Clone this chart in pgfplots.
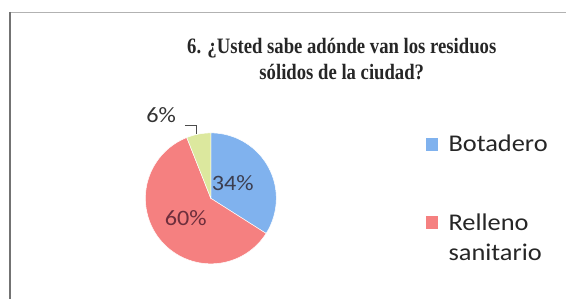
\documentclass[border=0pt]{standalone}
\usepackage{pgfplots}
\pgfplotsset{compat=1.18}
\usepackage{fontspec}
\setmainfont{Liberation Serif}
\newfontfamily\calib{Carlito}
\definecolor{cBlue}{RGB}{128,178,238}
\definecolor{cRed}{RGB}{245,128,128}
\definecolor{cGreen}{RGB}{220,232,158}
\definecolor{cTxt}{RGB}{60,62,80}
\begin{document}
\begin{tikzpicture}
\begin{axis}[
  hide axis, scale only axis, width=566pt, height=299pt,
  xmin=0, xmax=566, ymin=0, ymax=299, y dir=reverse,
  enlargelimits=false, clip=false]
\path (axis cs:0,0) rectangle (axis cs:566,299);
% frame
\draw[black!30, line width=0.8pt] (axis cs:10,12) -- (axis cs:566,12);
\draw[black!55, line width=1.4pt] (axis cs:10,12) -- (axis cs:10,299);
% title
\node[anchor=base, xscale=0.85, font=\bfseries\fontsize{22}{24}\selectfont, text=black!85] at (axis cs:342,54) {6. ¿Usted sabe adónde van los residuos};
\node[anchor=base, xscale=0.85, font=\bfseries\fontsize{22}{24}\selectfont, text=black!85] at (axis cs:342,80) {sólidos de la ciudad?};
% pie: values 34 (Botadero), 60 (Relleno sanitario), 6 (other)
\def\R{65.5pt}
\coordinate (C) at (axis cs:211,198.5);
\pgfmathsetmacro{\aA}{90}
\pgfmathsetmacro{\aB}{90-34*3.6}
\pgfmathsetmacro{\aC}{\aB-60*3.6}
\pgfmathsetmacro{\aD}{\aC-6*3.6}
\fill[cBlue, draw=white, line width=0.5pt] (C) -- ++(\aA:\R) arc[start angle=\aA, end angle=\aB, radius=\R] -- cycle;
\fill[cRed, draw=white, line width=0.5pt] (C) -- ++(\aB:\R) arc[start angle=\aB, end angle=\aC, radius=\R] -- cycle;
\fill[cGreen, draw=white, line width=0.5pt] (C) -- ++(\aC:\R) arc[start angle=\aC, end angle=\aD, radius=\R] -- cycle;
% labels
\node[xscale=1.1, font=\calib\fontsize{22}{24}\selectfont, text=cTxt] at (axis cs:233,183) {34\%};
\node[xscale=1.1, font=\calib\fontsize{22}{24}\selectfont, text=cTxt!75!red] at (axis cs:186,218) {60\%};
\node[anchor=base east, xscale=1.1, font=\calib\fontsize{22}{24}\selectfont, text=black!80] at (axis cs:180,123) {6\%};
\draw[black!70, line width=0.8pt] (axis cs:185,125) -- (axis cs:197,125) -- (axis cs:197,134);
% legend
\fill[cBlue] (axis cs:426,138) rectangle (axis cs:438,151);
\node[anchor=base west, xscale=1.1, font=\calib\fontsize{24}{26}\selectfont, text=black!85] at (axis cs:445,152) {Botadero};
\fill[cRed] (axis cs:426,216) rectangle (axis cs:438,229);
\node[anchor=base west, xscale=1.1, font=\calib\fontsize{24}{26}\selectfont, text=black!85] at (axis cs:445,231) {Relleno};
\node[anchor=base west, xscale=1.1, font=\calib\fontsize{24}{26}\selectfont, text=black!85] at (axis cs:445,261) {sanitario};
\end{axis}
\end{tikzpicture}
\end{document}
